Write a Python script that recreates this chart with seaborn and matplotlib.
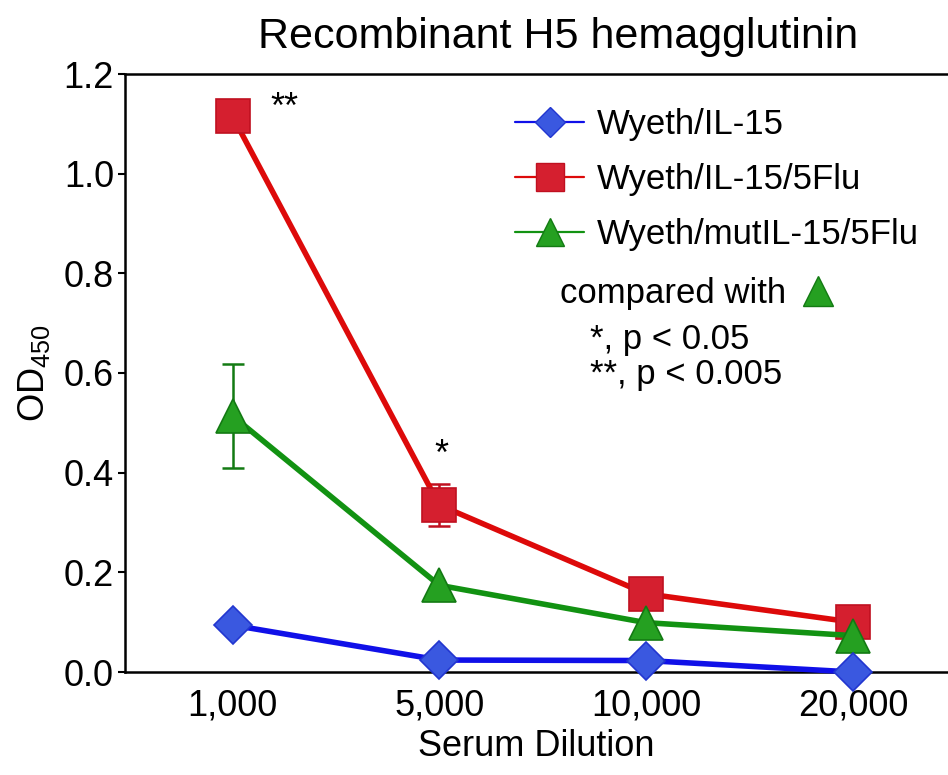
import pandas as pd
import seaborn as sns
import matplotlib
matplotlib.use('Agg')
import matplotlib.pyplot as plt
from matplotlib.lines import Line2D

dilutions = ['1,000', '5,000', '10,000', '20,000']
il15 = [0.094, 0.024, 0.023, 0.0]
il15_5flu = [1.115, 0.335, 0.157, 0.10]
il15_5flu_err = [0.0, 0.043, 0.0, 0.0]
mut_5flu = [0.514, 0.174, 0.099, 0.073]
mut_5flu_err = [0.105, 0.0, 0.0, 0.0]

names = ['Wyeth/IL-15', 'Wyeth/IL-15/5Flu', 'Wyeth/mutIL-15/5Flu']
line_col = {'Wyeth/IL-15': '#1010e8', 'Wyeth/IL-15/5Flu': '#dd0a0a', 'Wyeth/mutIL-15/5Flu': '#129212'}
face_col = {'Wyeth/IL-15': '#3a58e0', 'Wyeth/IL-15/5Flu': '#d51f2f', 'Wyeth/mutIL-15/5Flu': '#25a021'}
edge_col = {'Wyeth/IL-15': '#2236d0', 'Wyeth/IL-15/5Flu': '#c01020', 'Wyeth/mutIL-15/5Flu': '#137a13'}
markers = {'Wyeth/IL-15': 'D', 'Wyeth/IL-15/5Flu': 's', 'Wyeth/mutIL-15/5Flu': '^'}
msize = {'Wyeth/IL-15': 19, 'Wyeth/IL-15/5Flu': 25, 'Wyeth/mutIL-15/5Flu': 25}
leg_msize = {'Wyeth/IL-15': 15, 'Wyeth/IL-15/5Flu': 20, 'Wyeth/mutIL-15/5Flu': 20}

df = pd.DataFrame({
    'dilution': dilutions * 3,
    'od': il15 + il15_5flu + mut_5flu,
    'err': [0.0] * 4 + il15_5flu_err + mut_5flu_err,
    'group': [names[0]] * 4 + [names[1]] * 4 + [names[2]] * 4,
})
# evenly spaced category positions
df['pos'] = pd.Categorical(df['dilution'], categories=dilutions).codes

sns.set_style('ticks')
plt.rcParams['font.family'] = ['Liberation Sans', 'DejaVu Sans']
plt.rcParams['mathtext.default'] = 'regular'
plt.rcParams['text.color'] = 'black'
plt.rcParams['axes.labelcolor'] = 'black'
plt.rcParams['xtick.color'] = 'black'
plt.rcParams['ytick.color'] = 'black'

W, H = 948, 775
fig = plt.figure(figsize=(W / 100, H / 100), dpi=100)
ax = fig.add_axes([125 / W, 1 - 672 / H, 823 / W, 598 / H])

# red first, then green, then blue on top
for z, g in enumerate([names[1], names[2], names[0]]):
    sub = df[df['group'] == g]
    if sub['err'].max() > 0:
        e = sub[sub['err'] > 0]
        ax.errorbar(e['pos'], e['od'], yerr=e['err'], fmt='none',
                    ecolor=edge_col[g], elinewidth=1.8, capsize=8, capthick=1.8,
                    zorder=2 + z)
    sns.lineplot(data=sub, x='pos', y='od', ax=ax, sort=False,
                 color=line_col[g], linewidth=4.0, marker=markers[g],
                 markersize=msize[g], markerfacecolor=face_col[g],
                 markeredgecolor=edge_col[g], markeredgewidth=1.2,
                 zorder=3 + z, clip_on=False, legend=False)

ax.set_xlim(-0.52, 3.46)
ax.set_ylim(0, 1.2)
ax.set_xticks(range(len(dilutions)))
ax.set_xticklabels(dilutions)
ax.set_yticks([0, 0.2, 0.4, 0.6, 0.8, 1.0, 1.2])
ax.set_yticklabels(['0.0', '0.2', '0.4', '0.6', '0.8', '1.0', '1.2'])
ax.tick_params(axis='y', labelsize=26, length=5, width=1.5, pad=3, direction='out')
ax.tick_params(axis='x', labelsize=26, length=0, pad=12)
for s in ['left', 'top', 'bottom']:
    ax.spines[s].set_linewidth(1.8)
    ax.spines[s].set_color('black')
ax.spines['right'].set_visible(False)
ax.set_xlabel('Serum Dilution', fontsize=26, labelpad=4)
ax.set_ylabel('OD$_{450}$', fontsize=26, labelpad=8)

fig.text(558 / W, 1 - 37 / H, 'Recombinant H5 hemagglutinin', fontsize=31,
         ha='center', va='center')

# significance marks
ax.text(0.25, 1.13, '**', fontsize=26, ha='center', va='center')
ax.text(1.01, 0.435, '*', fontsize=26, ha='center', va='center')

handles = [Line2D([], [], color=line_col[g], linewidth=1.6, marker=markers[g],
                  markersize=leg_msize[g], markerfacecolor=face_col[g],
                  markeredgecolor=edge_col[g]) for g in names]
ax.legend(handles, names, loc='upper left', bbox_to_anchor=(515 / W, 1 - 108 / H),
          bbox_transform=fig.transFigure, frameon=False, fontsize=25,
          handlelength=2.0, handletextpad=0.35, labelspacing=0.63,
          borderpad=0, borderaxespad=0)

fig.text(560 / W, 1 - 293 / H, 'compared with', fontsize=25, ha='left', va='center')
ax.plot([818 / W], [1 - 291 / H], marker='^', markersize=21, color=face_col[names[2]],
        markeredgecolor=edge_col[names[2]], transform=fig.transFigure, clip_on=False)
fig.text(590 / W, 1 - 340 / H, '*, p < 0.05', fontsize=25, ha='left', va='center')
fig.text(590 / W, 1 - 374 / H, '**, p < 0.005', fontsize=25, ha='left', va='center')

fig.savefig('out.png', dpi=100)
